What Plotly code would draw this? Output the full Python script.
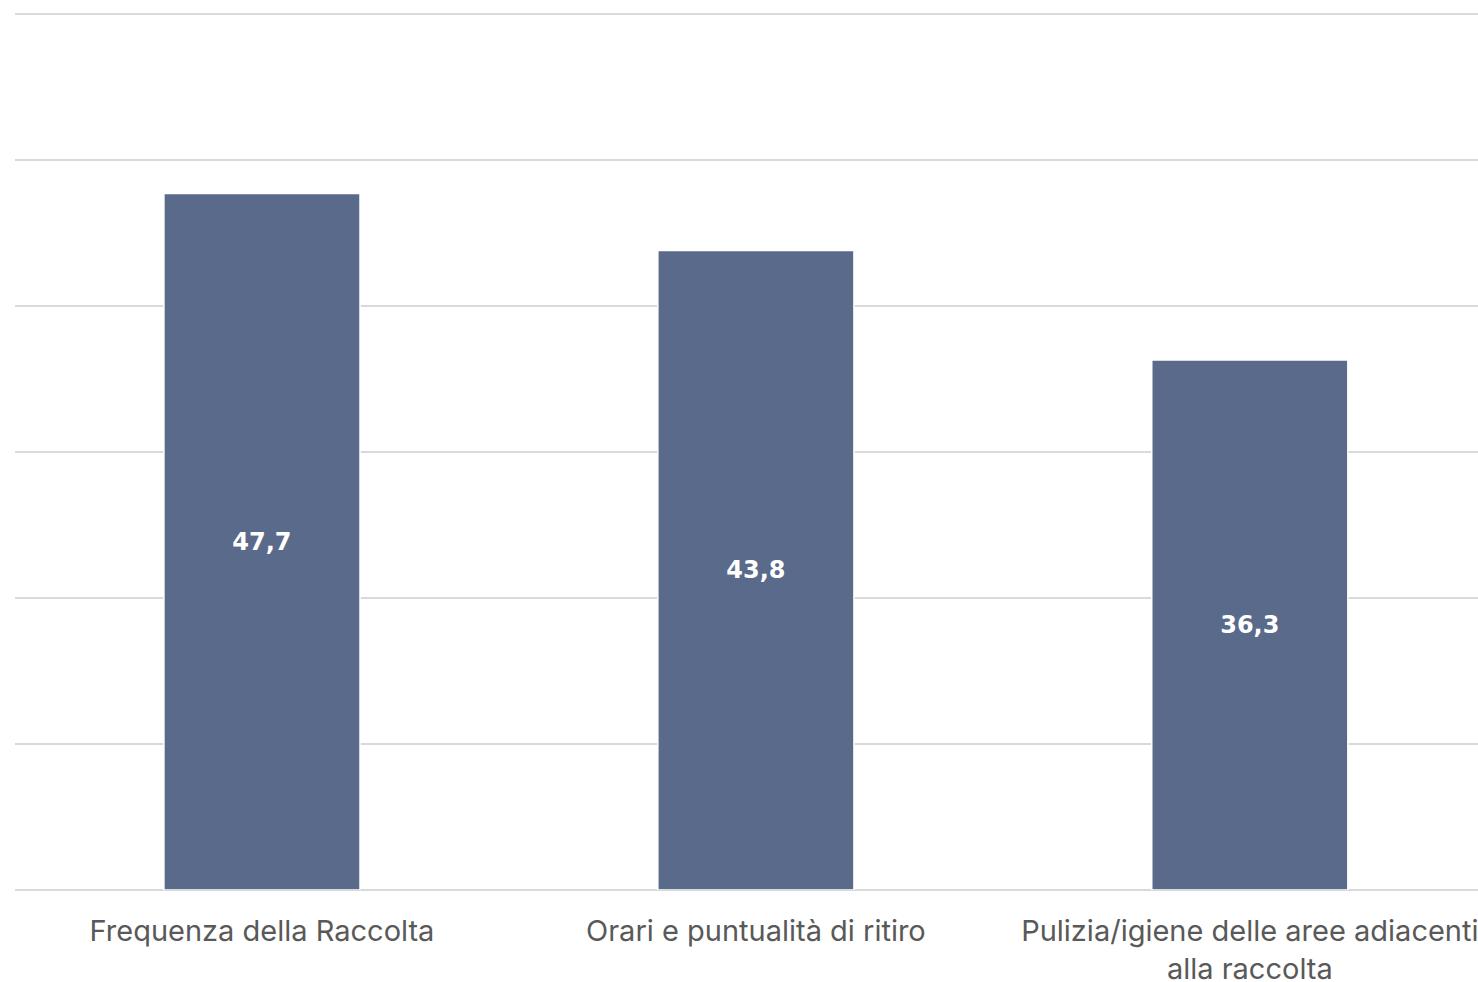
import plotly.graph_objects as go

categories = [
    "Frequenza della Raccolta",
    "Orari e puntualità di ritiro",
    "Pulizia/igiene delle aree adiacenti<br>alla raccolta",
]
values = [47.7, 43.8, 36.3]

bar_color = "#5A6A8A"
grid_color = "#D9D9D9"

fig = go.Figure(
    go.Bar(
        x=categories,
        y=values,
        marker=dict(color=bar_color, line=dict(color="white", width=1.5)),
        texttemplate="%{y:.1f}",
        textposition="inside",
        insidetextanchor="middle",
        textangle=0,
        textfont=dict(family="DejaVu Sans", size=24, color="white", weight="bold"),
        hoverinfo="skip",
    )
)

fig.update_layout(
    width=1478,
    height=982,
    margin=dict(l=15, r=0, t=12, b=92, autoexpand=False),
    paper_bgcolor="white",
    plot_bgcolor="white",
    separators=",.",
    bargap=0.603,
    showlegend=False,
    font=dict(family="Inter", color="#595959"),
)

fig.update_xaxes(
    range=[-0.5, 2.462],
    showline=False,
    showgrid=False,
    ticks="",
    ticklabelstandoff=21,
    tickfont=dict(family="Inter", size=29, color="#595959"),
    automargin=False,
)

fig.update_yaxes(
    range=[0, 60.137],
    tickvals=[0, 10, 20, 30, 40, 50, 60],
    showgrid=True,
    gridcolor=grid_color,
    gridwidth=2,
    zeroline=True,
    zerolinecolor=grid_color,
    zerolinewidth=2,
    showticklabels=False,
    ticks="",
    automargin=False,
)

fig.write_html("out.html")
